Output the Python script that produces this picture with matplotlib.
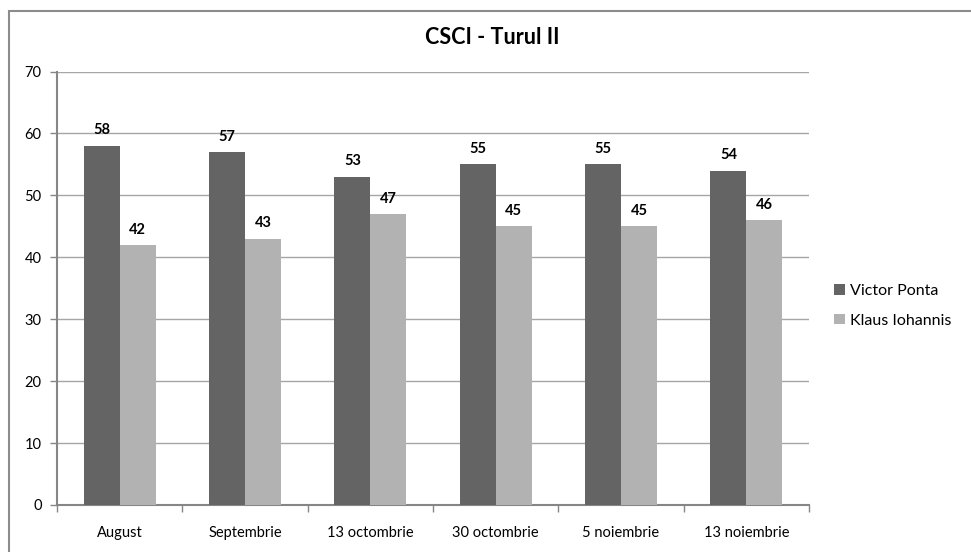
import matplotlib
matplotlib.use("Agg")
import matplotlib.pyplot as plt
import numpy as np
from matplotlib.patches import Rectangle

categories = ["August", "Septembrie", "13 octombrie", "30 octombrie", "5 noiembrie", "13 noiembrie"]
ponta = [58, 57, 53, 55, 55, 54]
iohannis = [42, 43, 47, 45, 45, 46]
series_names = ["Victor Ponta", "Klaus Iohannis"]
title = "CSCI - Turul II"

plt.rcParams['font.family'] = ['Lato', 'DejaVu Sans']

W, H = 971, 552
fig = plt.figure(figsize=(W / 100, H / 100), dpi=100)

# outer chart border (left/top visible)
fig.patches.append(Rectangle((9 / W, -0.05), 1.2, 1 - 11 / H + 0.05, transform=fig.transFigure,
                             fill=False, edgecolor="#8c8c8c", linewidth=1.5))

ax = fig.add_axes([57 / W, 1 - 505 / H, (809 - 57) / W, (505 - 71.5) / H])

x = np.arange(len(categories))
bw = 0.287
dark = "#646464"
light = "#b2b2b2"
b1 = ax.bar(x - bw / 2, ponta, bw, color=dark, label=series_names[0], zorder=3)
b2 = ax.bar(x + bw / 2, iohannis, bw, color=light, label=series_names[1], zorder=3)

for bars in (b1, b2):
    ax.bar_label(bars, padding=6, fontsize=10.5, fontweight="bold", color="black")

ax.set_xlim(-0.5, len(categories) - 0.5)
ax.set_ylim(0, 70)
ax.set_yticks(np.arange(0, 71, 10))
ax.yaxis.grid(True, color="#a6a6a6", linewidth=1, zorder=0)
ax.set_axisbelow(True)

ax.set_xticks(x)
ax.set_xticklabels(categories, fontsize=10.5)
ax.set_xticks(np.arange(-0.5, len(categories)), minor=True)
ax.tick_params(axis="x", which="major", length=0, pad=15)
ax.tick_params(axis="x", which="minor", length=5, color="#868686", width=1)
ax.tick_params(axis="y", length=5, color="#868686", width=1, labelsize=10.5, pad=6)

for s in ("top", "right"):
    ax.spines[s].set_visible(False)
for s in ("left", "bottom"):
    ax.spines[s].set_color("#868686")
    ax.spines[s].set_linewidth(1.5)

fig.text(492 / W, 1 - 38 / H, title, ha="center", va="center", fontsize=15.5, fontweight="bold")

leg = fig.legend(handles=[b1, b2], labels=series_names, loc="center left",
                 bbox_to_anchor=(820 / W, 1 - 306 / H), frameon=False, fontsize=11.5,
                 handlelength=0.65, handleheight=0.65, handletextpad=0.35, labelspacing=0.95)

fig.savefig("out.png", dpi=100)
